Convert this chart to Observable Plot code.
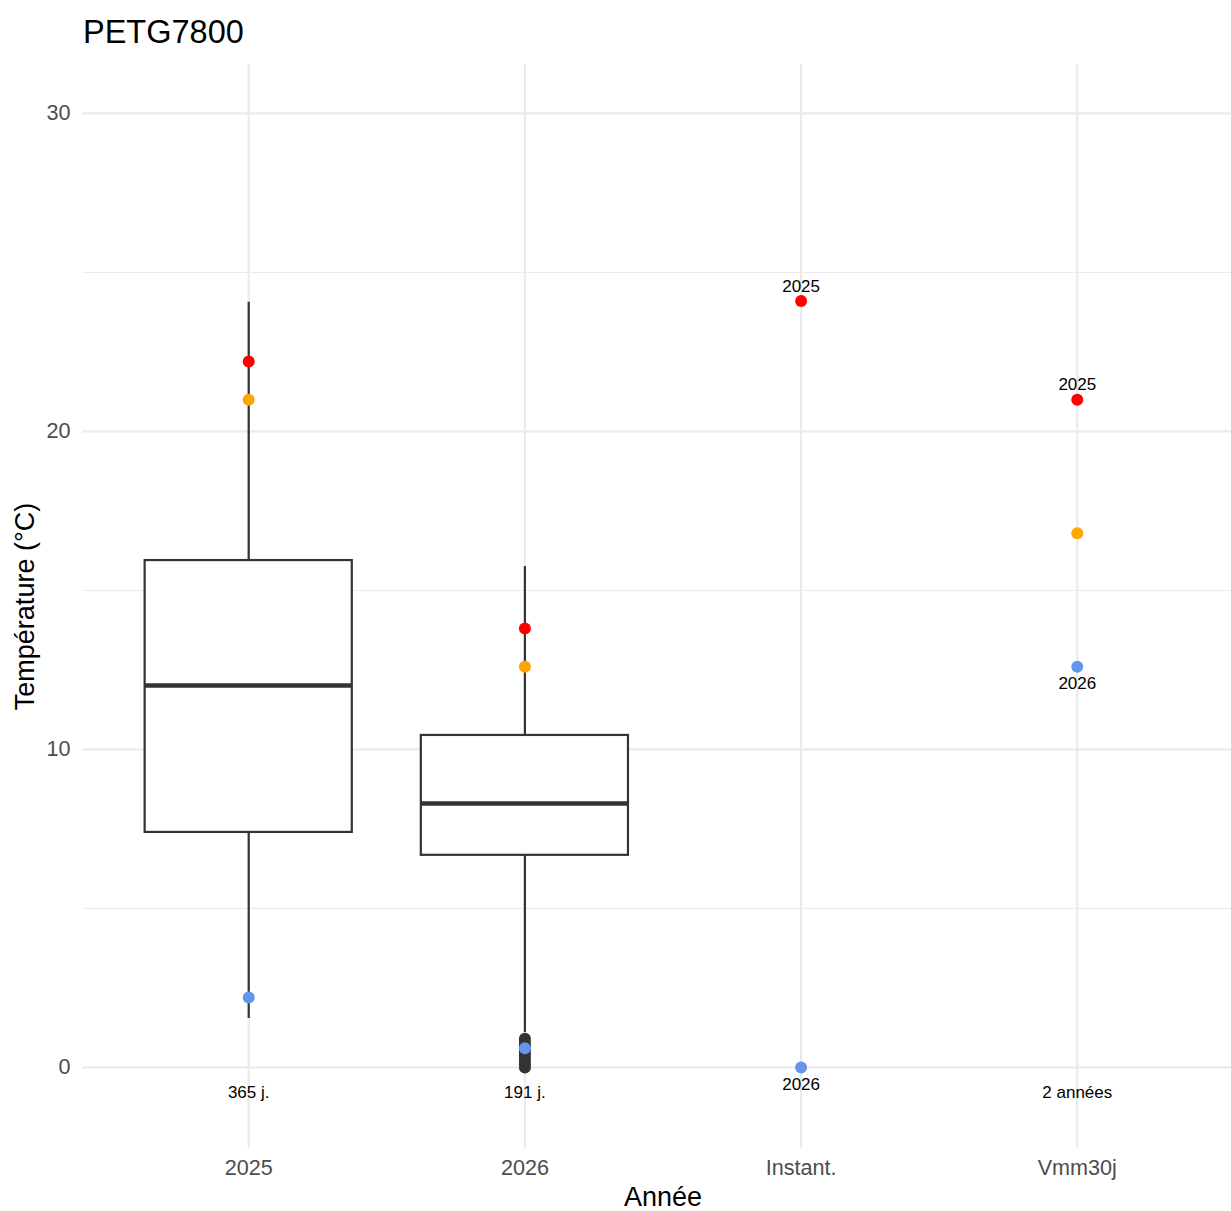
<!DOCTYPE html>
<html><head><meta charset="utf-8">
<script src="https://cdn.jsdelivr.net/npm/d3@7"></script>
<script src="https://cdn.jsdelivr.net/npm/@observablehq/plot@0.6"></script>
<style>
body{margin:0;background:#fff;font-family:"Liberation Sans",Arial,sans-serif;}
#title{height:64px;box-sizing:border-box;padding:14px 0 0 83px;font-size:32.5px;color:#000;line-height:normal;white-space:nowrap}
#chart svg{display:block}
</style></head><body>
<div id="title">PETG7800</div>
<div id="chart"></div>
<script>
// Categories
const categories = ["2025", "2026", "Instant.", "Vmm30j"];

// Boxplot summaries (2025, 2026)
const boxCats = ["2025", "2026"];
const boxQ1 = [7.39, 6.67];
const boxMedian = [12.01, 8.30];
const boxQ3 = [15.94, 10.44];
const boxLow = [1.54, 1.10];
const boxHigh = [24.06, 15.75];

// Outliers for 2026
const outlierCat = "2026";
const outlierValues = [0.9, 0.8, 0.7, 0.6, 0.5, 0.4, 0.3, 0.2, 0.1, 0.0];

// Coloured points
const pointCats   = ["2025", "2025", "2025", "2026", "2026", "2026", "Instant.", "Instant.", "Vmm30j", "Vmm30j", "Vmm30j"];
const pointValues = [22.2, 21.0, 2.2, 13.8, 12.6, 0.6, 24.1, 0.0, 21.0, 16.8, 12.6];
const pointKinds  = ["max", "p95", "min", "max", "p95", "min", "max", "min", "max", "p95", "min"];
const kindColors = {max: "#ff0000", p95: "#ffa500", min: "#6495ed"};

// Year labels next to points
const labelCats   = ["Instant.", "Instant.", "Vmm30j", "Vmm30j"];
const labelValues = [24.1, 0.0, 21.0, 12.6];
const labelTexts  = ["2025", "2026", "2025", "2026"];
const labelAbove  = [true, false, true, false];

// Count labels under the axis
const countCats = ["2025", "2026", "Vmm30j"];
const countTexts = ["365 j.", "191 j.", "2 années"];
const countY = -0.8;

// Axis ticks
const majorTicks = [0, 10, 20, 30];
const minorTicks = [5, 15, 25];

const boxData = boxCats.map((c, i) => ({cat: c, q1: boxQ1[i], med: boxMedian[i], q3: boxQ3[i], lo: boxLow[i], hi: boxHigh[i]}));
const points = pointCats.map((c, i) => ({cat: c, v: pointValues[i], col: kindColors[pointKinds[i]]}));
const labels = labelCats.map((c, i) => ({cat: c, v: labelValues[i], t: labelTexts[i], above: labelAbove[i]}));
const counts = countCats.map((c, i) => ({cat: c, t: countTexts[i], v: countY}));
const outliers = outlierValues.map(v => ({cat: outlierCat, v}));

const ink = "#333333";
const grid = "#ebebeb";

const plot = Plot.plot({
  width: 1231,
  height: 1147,
  marginTop: 0,
  marginBottom: 63,
  marginLeft: 82.5,
  marginRight: -11.5,
  style: {fontFamily: "'Liberation Sans', Arial, sans-serif", fontSize: "21.6px", color: "#4d4d4d", background: "white"},
  x: {type: "band", domain: categories, paddingInner: 0.25, paddingOuter: 0.225, align: 0.5, round: false, tickSize: 0, tickPadding: 11, label: null},
  y: {domain: [-2.55, 31.54], ticks: majorTicks, tickSize: 0, tickPadding: 12.5, label: null},
  color: {type: "identity"},
  marks: [
    Plot.ruleY(minorTicks, {stroke: grid, strokeWidth: 1.1}),
    Plot.ruleY(majorTicks, {stroke: grid, strokeWidth: 2.2}),
    Plot.ruleX(categories, {x: d => d, stroke: grid, strokeWidth: 2.2}),
    Plot.ruleX(boxData, {x: "cat", y1: "q3", y2: "hi", stroke: ink, strokeWidth: 2.2}),
    Plot.ruleX(boxData, {x: "cat", y1: "lo", y2: "q1", stroke: ink, strokeWidth: 2.2}),
    Plot.barY(boxData, {x: "cat", y1: "q1", y2: "q3", fill: "white", stroke: ink, strokeWidth: 2.2}),
    Plot.tickY(boxData, {x: "cat", y: "med", stroke: ink, strokeWidth: 4.5}),
    Plot.dot(outliers, {x: "cat", y: "v", r: 6, fill: ink}),
    Plot.dot(points, {x: "cat", y: "v", r: 6, fill: "col"}),
    Plot.text(labels.filter(d => d.above), {x: "cat", y: "v", text: "t", dy: -15, fontSize: 17, fill: "black"}),
    Plot.text(labels.filter(d => !d.above), {x: "cat", y: "v", text: "t", dy: 17, fontSize: 17, fill: "black"}),
    Plot.text(counts, {x: "cat", y: "v", text: "t", fontSize: 17, fill: "black"}),
    Plot.text(["Température (°C)"], {frameAnchor: "left", dx: -57.5, rotate: -90, textAnchor: "middle", lineAnchor: "middle", fontSize: 27, fill: "black"}),
    Plot.text(["Année"], {frameAnchor: "bottom", dy: 49, textAnchor: "middle", lineAnchor: "middle", fontSize: 27, fill: "black"})
  ]
});
document.getElementById("chart").appendChild(plot);
</script>
</body></html>
